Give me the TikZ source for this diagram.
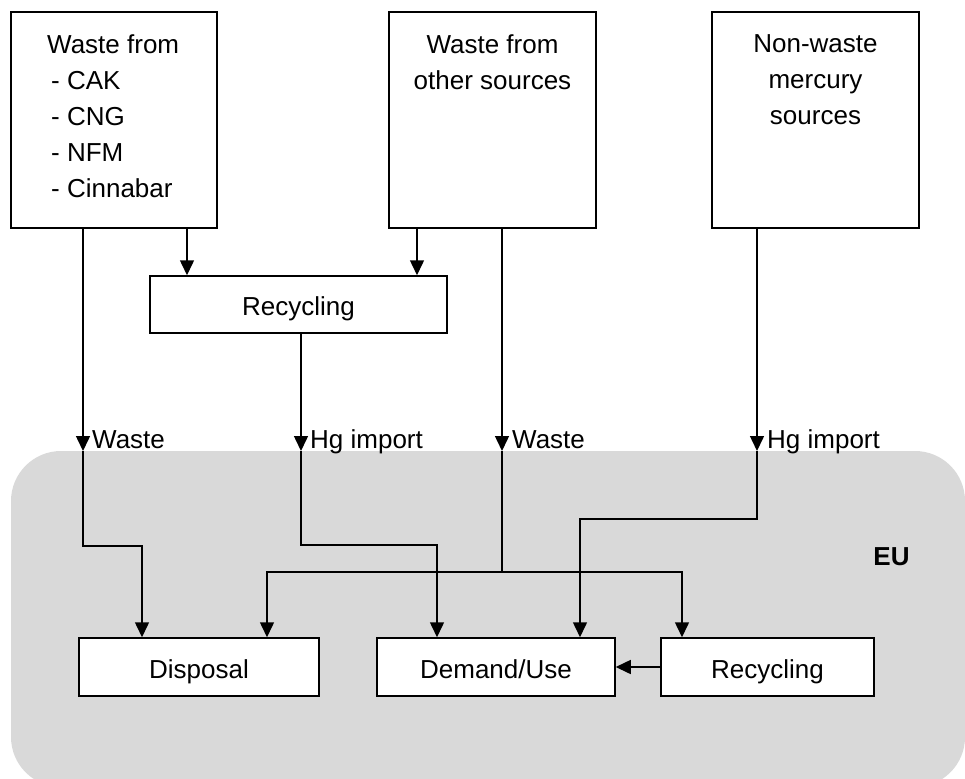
\documentclass[tikz,border=0pt]{standalone}
\usepackage{fontspec}
\setmainfont{Liberation Sans}
\usepackage{tikz}
\usetikzlibrary{arrows.meta}

\definecolor{eugray}{HTML}{D9D9D9}

\begin{document}
\begin{tikzpicture}[x=1pt,y=-1pt,
    box/.style={draw=black,line width=1.5pt,fill=white,inner sep=0pt,
      text height=22pt,text depth=0pt,font=\fontsize{26}{36}\selectfont},
    txt/.style={inner sep=0pt,font=\fontsize{26}{36}\selectfont},
    lbl/.style={txt,anchor=base west},
    flow/.style={line width=1.5pt,-{Triangle[length=15pt,width=14pt]}},
    wire/.style={line width=1.5pt}]
             \clip (0,0) rectangle (965,778);
             \fill[eugray,rounded corners=50pt] (11,451) rectangle (965,787);
             \node[txt,font=\fontsize{26}{36}\selectfont\bfseries] (eu) at (891.5,557) {EU};

             % sources outside
             \node[box,minimum width=206pt,minimum height=216pt] (wcak) at (114,120) {};
             \node[txt,anchor=north west,align=left] (wcaktext) at (47,34)
               {Waste from\\\hspace*{4pt}- CAK\\\hspace*{4pt}- CNG\\\hspace*{4pt}- NFM\\\hspace*{4pt}- Cinnabar};
             \node[box,minimum width=207pt,minimum height=216pt] (wother) at (492.5,120) {};
             \node[txt,anchor=north,align=center] (wothertext) at (492.5,34) {Waste from\\other sources};
             \node[box,minimum width=207pt,minimum height=216pt] (nonwaste) at (815.5,120) {};
             \node[txt,anchor=north,align=center] (nonwastetext) at (815.5,34) {Non-waste\\mercury\\sources};

             \node[box,minimum width=297pt,minimum height=57pt] (recout) at (298.5,304.5) {Recycling};

             % inside EU
             \node[box,minimum width=240pt,minimum height=58pt] (disp) at (199,667) {Disposal};
             \node[box,minimum width=238pt,minimum height=58pt] (dem) at (496,667) {Demand/Use};
             \node[box,minimum width=213pt,minimum height=58pt] (recin) at (767.5,667) {Recycling};

             \coordinate (a1) at (187,0);
             \coordinate (a2) at (417,0);
             \draw[flow] (wcak.south -| a1) -- (recout.north -| a1);
             \draw[flow] (wother.south -| a2) -- (recout.north -| a2);

             \coordinate (c1) at (83,451);
             \coordinate (c2) at (301,451);
             \coordinate (c3) at (502,451);
             \coordinate (c4) at (757,451);
             \draw[flow] (wcak.south -| c1) -- (c1);
             \draw[flow] (recout.south -| c2) -- (c2);
             \draw[flow] (wother.south -| c3) -- (c3);
             \draw[flow] (nonwaste.south -| c4) -- (c4);

             \node[lbl] (lwaste1) at (92,448) {Waste};
             \node[lbl] (limport1) at (310,448) {Hg import};
             \node[lbl] (lwaste2) at (512,448) {Waste};
             \node[lbl] (limport2) at (767,448) {Hg import};

             \draw[flow] (c1) -- ++(0,95) -| ([xshift=-57pt]disp.north);
             \draw[flow] (c2) -- ++(0,94) -| ([xshift=-59pt]dem.north);
             \draw[wire] (c3) -- ++(0,121) coordinate (split);
             \draw[flow] (split) -| ([xshift=68pt]disp.north);
             \draw[flow] (split) -| ([xshift=-85.5pt]recin.north);
             \draw[flow] (c4) -- ++(0,68) -| ([xshift=84pt]dem.north);
             \draw[flow] (recin.west) -- (dem.east);
\end{tikzpicture}
\end{document}
